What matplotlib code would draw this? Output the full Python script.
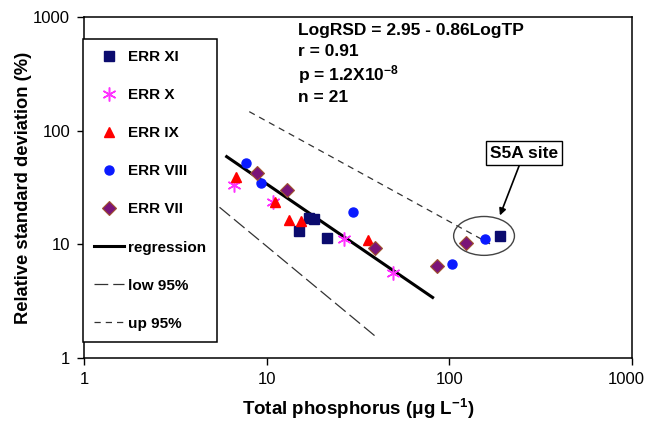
import matplotlib
matplotlib.use("Agg")
import matplotlib.pyplot as plt
from matplotlib.patches import Ellipse
from matplotlib.ticker import NullLocator
from matplotlib.transforms import ScaledTranslation

plt.rcParams['font.family'] = ['Liberation Sans', 'DejaVu Sans']
plt.rcParams['mathtext.fontset'] = 'custom'
plt.rcParams['mathtext.rm'] = 'Liberation Sans'
plt.rcParams['mathtext.bf'] = 'Liberation Sans:bold'
plt.rcParams['mathtext.default'] = 'bf'

# data (TP in ug/L, RSD in %)
xi_tp = [17.1, 18.2, 15.1, 21.4, 189]
xi_rsd = [16.9, 16.6, 13.0, 11.3, 11.8]

x_tp = [6.65, 10.8, 26.5, 49]
x_rsd = [33.4, 23.5, 11.2, 5.6]

ix_tp = [6.77, 11.1, 13.3, 15.5, 36.0]
ix_rsd = [38.9, 23.5, 16.5, 15.9, 11.0]

viii_tp = [7.67, 9.27, 29.8, 104, 157]
viii_rsd = [52, 34.8, 19.2, 6.77, 11.1]

vii_tp = [8.82, 12.97, 39.2, 85.2, 123]
vii_rsd = [42.2, 30.2, 9.35, 6.41, 10.3]

# fitted lines, end points
reg_tp = [6.04, 81]
reg_rsd = [59.1, 3.41]
low_tp = [4.6, 39.6]
low_rsd = [27, 1.54]
up_tp = [8.03, 167]
up_rsd = [147, 10.1]

ticks = [1, 10, 100, 1000]
tick_labels = ['1', '10', '100', '1000']

fig = plt.figure(figsize=(6.47, 4.21), dpi=100)
ax = fig.add_axes([84 / 647, 63 / 421, 548 / 647, 341 / 421])

ax.plot(xi_tp, xi_rsd, 's', color='#0b0b6e', ms=7, ls='none', label='ERR XI', zorder=4)
ax.plot(x_tp, x_rsd, marker=(6, 2, 0), color='#ff33ff', mec='#ff33ff', ms=10, mew=1.1,
        ls='none', label='ERR X', zorder=4)
ax.plot(ix_tp, ix_rsd, '^', color='#ff0000', ms=7, ls='none', label='ERR IX', zorder=4)
ax.plot(viii_tp, viii_rsd, 'o', color='#0a1aff', ms=6.5, ls='none', label='ERR VIII', zorder=4)
ax.plot(vii_tp, vii_rsd, 'D', color='#7a1478', mec='#a0522d', mew=0.8, ms=7, ls='none',
        label='ERR VII', zorder=4)

ax.plot(reg_tp, reg_rsd, '-', color='black', lw=2.2, label='regression', zorder=3)
ax.plot(low_tp, low_rsd, color='#333333', lw=0.9, dashes=(11, 4), label='low 95%', zorder=3)
ax.plot(up_tp, up_rsd, color='#333333', lw=0.9, dashes=(5, 4), label='up 95%', zorder=3)

ax.set_xscale('log')
ax.set_yscale('log')
ax.set_xlim(1, 1000)
ax.set_ylim(1, 1000)
ax.set_xticks(ticks, tick_labels)
ax.set_yticks(ticks, tick_labels)
ax.xaxis.set_minor_locator(NullLocator())
ax.yaxis.set_minor_locator(NullLocator())
ax.tick_params(direction='out', length=5, width=1, labelsize=12, pad=5)
# last x label sits a little left of its tick, as in the original
last = ax.get_xticklabels()[-1]
last.set_transform(last.get_transform() + ScaledTranslation(-6 / 100, 0, fig.dpi_scale_trans))
for s in ax.spines.values():
    s.set_linewidth(1.1)

ax.set_xlabel(r'Total phosphorus ($\mu$g L$^{-1}$)', fontsize=13.5, fontweight='bold', labelpad=7)
ax.set_ylabel('Relative standard deviation (%)', fontsize=13.2, fontweight='bold', labelpad=0.5)

leg = ax.legend(loc='upper left', bbox_to_anchor=(-0.002, 0.935), borderaxespad=0,
                fancybox=False, framealpha=1, edgecolor='black',
                prop={'weight': 'bold', 'size': 11}, labelspacing=1.58,
                handlelength=2.0, handletextpad=0.25, borderpad=0.7, numpoints=1)
leg.get_frame().set_linewidth(1.1)
leg.set_zorder(5)

# regression statistics
fig.text(298 / 647, 1 - 31 / 421, 'LogRSD = 2.95 - 0.86LogTP', fontsize=12.5, fontweight='bold', va='center')
fig.text(298 / 647, 1 - 51 / 421, 'r = 0.91', fontsize=12.5, fontweight='bold', va='center')
fig.text(298 / 647, 1 - 75 / 421, r'p = 1.2X10$^{-8}$', fontsize=12.5, fontweight='bold', va='center')
fig.text(298 / 647, 1 - 97 / 421, 'n = 21', fontsize=12.5, fontweight='bold', va='center')

# S5A site highlight
ax.add_patch(Ellipse((0.730, 0.358), 0.111, 0.114, transform=ax.transAxes,
                     fill=False, edgecolor='#444444', lw=1, zorder=5))
ax.annotate('S5A site', xy=(0.759, 0.418), xycoords='axes fraction',
            xytext=(0.803, 0.601), textcoords='axes fraction',
            ha='center', va='center', fontsize=12.5, fontweight='bold',
            bbox=dict(boxstyle='square,pad=0.25', fc='white', ec='black', lw=1),
            arrowprops=dict(arrowstyle='-|>', color='black', lw=1.2, mutation_scale=10,
                            shrinkA=0, shrinkB=0))

fig.savefig('out.png', dpi=100)
